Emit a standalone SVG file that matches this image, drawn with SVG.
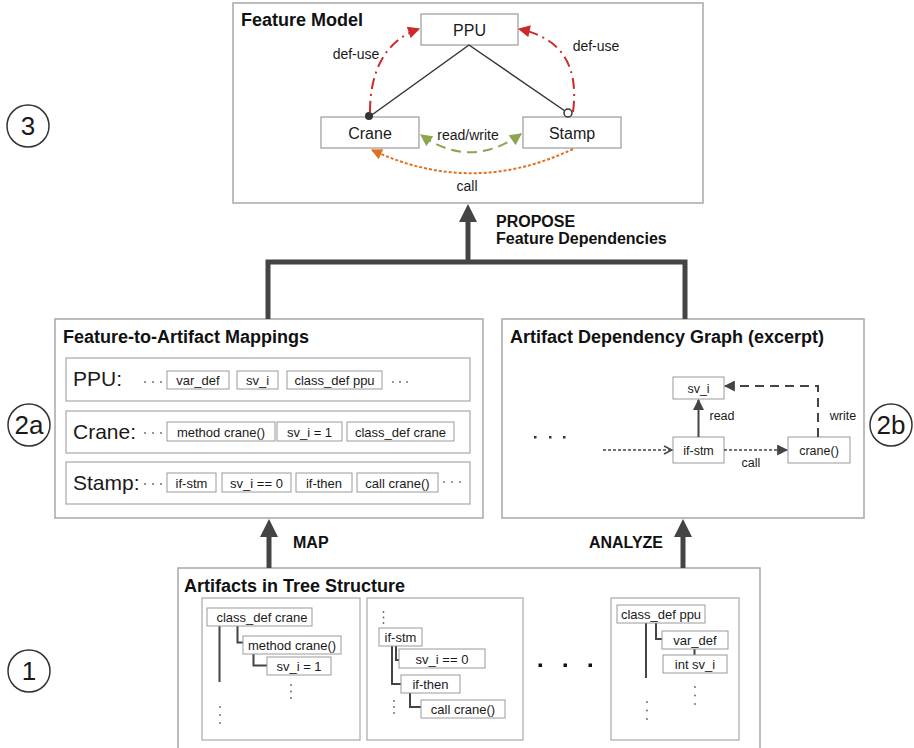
<svg xmlns="http://www.w3.org/2000/svg" width="914" height="748" viewBox="0 0 914 748">
<style>
text{font-family:"Liberation Sans",Arial,sans-serif;fill:#1a1a1a}
.title{font-size:18px;font-weight:bold;fill:#111}
.lbl{font-size:16px;font-weight:bold;fill:#111}
.frame{fill:#fff;stroke:#a8a8a8;stroke-width:1.5}
.row{fill:#fff;stroke:#a8a8a8;stroke-width:1.2}
.item{fill:#fff;stroke:#9a9a9a;stroke-width:1}
.fm{fill:#fff;stroke:#9a9a9a;stroke-width:1.2}
.t16{font-size:16px;text-anchor:middle}
.t14{font-size:14px;text-anchor:middle}
.t13{font-size:13px;text-anchor:middle}
.t12{font-size:12.5px;text-anchor:middle}
.t20{font-size:21px}
.num{fill:#fff;stroke:#333;stroke-width:1.5}
.numt{font-size:26px;text-anchor:middle}
.tree{fill:none;stroke:#444;stroke-width:2}
.big{fill:none;stroke:#444;stroke-width:5}
.dot{fill:#666}
</style>
<defs>
<marker id="ar-red" viewBox="0 0 10 10" refX="9" refY="5" markerWidth="13" markerHeight="12" markerUnits="userSpaceOnUse" orient="auto"><path d="M0,0L10,5L0,10z" fill="#cc2a2a"/></marker>
<marker id="ar-grn" viewBox="0 0 10 10" refX="9" refY="5" markerWidth="13" markerHeight="12" markerUnits="userSpaceOnUse" orient="auto-start-reverse"><path d="M0,0L10,5L0,10z" fill="#8ba64d"/></marker>
<marker id="ar-org" viewBox="0 0 10 10" refX="9" refY="5" markerWidth="12" markerHeight="11" markerUnits="userSpaceOnUse" orient="auto"><path d="M0,0L10,5L0,10z" fill="#e0701f"/></marker>
<marker id="ar-dk" viewBox="0 0 10 10" refX="9" refY="5" markerWidth="11" markerHeight="11" markerUnits="userSpaceOnUse" orient="auto"><path d="M0,0L10,5L0,10z" fill="#444"/></marker>
<marker id="ar-open" viewBox="0 0 10 10" refX="9" refY="5" markerWidth="10" markerHeight="10" markerUnits="userSpaceOnUse" orient="auto"><path d="M1,1L9,5L1,9" fill="none" stroke="#444" stroke-width="1.5"/></marker>
</defs>

<!-- circled step numbers -->
<g id="step-3"><circle class="num" cx="28" cy="126" r="21"/><text class="numt" x="28" y="135">3</text></g>
<g id="step-2a"><circle class="num" cx="29" cy="425" r="21"/><text class="numt" x="29" y="434">2a</text></g>
<g id="step-2b"><circle class="num" cx="891" cy="425" r="21"/><text class="numt" x="891" y="434">2b</text></g>
<g id="step-1"><circle class="num" cx="29" cy="671" r="21"/><text class="numt" x="29" y="680">1</text></g>

<!-- Feature Model -->
<g id="feature-model">
<rect class="frame" x="233" y="3" width="470" height="200"/>
<text class="title" x="241" y="26">Feature Model</text>
</g>
<g id="fm-ppu"><rect class="fm" x="421" y="14" width="97" height="31"/><text class="t16" x="469.5" y="35.5">PPU</text></g>
<g id="fm-crane"><rect class="fm" x="321" y="117" width="98" height="31"/><text class="t16" x="370" y="138.5">Crane</text></g>
<g id="fm-stamp"><rect class="fm" x="523" y="117" width="98" height="31"/><text class="t16" x="572" y="138.5">Stamp</text></g>

<g id="fm-connectors">
<line x1="469" y1="45" x2="369" y2="117" stroke="#333" stroke-width="1.5"/>
<line x1="469" y1="45" x2="565" y2="111" stroke="#333" stroke-width="1.5"/>
<circle cx="369" cy="116" r="4" fill="#333"/>
<circle cx="568" cy="113" r="4" fill="#fff" stroke="#333" stroke-width="1.5"/>
<path d="M370,112 C370,70 386,40 419,29" fill="none" stroke="#cc2a2a" stroke-width="2" stroke-dasharray="11 5 2 5" marker-end="url(#ar-red)"/>
<path d="M573,112 C579,66 562,38 519,29" fill="none" stroke="#cc2a2a" stroke-width="2" stroke-dasharray="11 5 2 5" marker-end="url(#ar-red)"/>
<path d="M521,134 Q470,170 421,135" fill="none" stroke="#8ba64d" stroke-width="2" stroke-dasharray="10 6" marker-start="url(#ar-grn)" marker-end="url(#ar-grn)"/>
<path d="M573,149 Q472,197 372,150" fill="none" stroke="#e0701f" stroke-width="2" stroke-dasharray="3 2" marker-end="url(#ar-org)"/>
<text class="t14" x="356" y="59">def-use</text>
<text class="t14" x="596" y="51">def-use</text>
<text class="t14" x="468" y="140">read/write</text>
<text class="t14" x="467" y="191">call</text>
</g>

<!-- Feature-to-Artifact Mappings -->
<g id="mappings">
<rect class="frame" x="55" y="319" width="428" height="199"/>
<text class="title" x="63" y="343">Feature-to-Artifact Mappings</text>
</g>
<g id="map-ppu">
<rect class="row" x="66" y="358" width="404" height="43"/>
<text class="t20" x="73" y="386">PPU:</text>
<circle class="dot" cx="145" cy="382" r="0.9"/><circle class="dot" cx="153" cy="382" r="0.9"/><circle class="dot" cx="161" cy="382" r="0.9"/>
<rect class="item" x="167" y="371" width="62" height="18"/><text class="t13" x="198" y="385">var_def</text>
<rect class="item" x="237" y="371" width="41" height="18"/><text class="t13" x="257.5" y="385">sv_i</text>
<rect class="item" x="287" y="371" width="95" height="18"/><text class="t13" x="334.5" y="385">class_def ppu</text>
<circle class="dot" cx="393" cy="382" r="0.9"/><circle class="dot" cx="400" cy="382" r="0.9"/><circle class="dot" cx="407" cy="382" r="0.9"/>
</g>
<g id="map-crane">
<rect class="row" x="66" y="411" width="404" height="42"/>
<text class="t20" x="73" y="439">Crane:</text>
<circle class="dot" cx="145" cy="433" r="0.9"/><circle class="dot" cx="153" cy="433" r="0.9"/><circle class="dot" cx="161" cy="433" r="0.9"/>
<rect class="item" x="167" y="422" width="108" height="19"/><text class="t13" x="221" y="436.5">method crane()</text>
<rect class="item" x="277" y="422" width="65" height="19"/><text class="t13" x="309.5" y="436.5">sv_i = 1</text>
<rect class="item" x="347" y="422" width="107" height="19"/><text class="t13" x="400.5" y="436.5">class_def crane</text>
</g>
<g id="map-stamp">
<rect class="row" x="66" y="462" width="404" height="42"/>
<text class="t20" x="73" y="490">Stamp:</text>
<circle class="dot" cx="145" cy="484" r="0.9"/><circle class="dot" cx="153" cy="484" r="0.9"/><circle class="dot" cx="161" cy="484" r="0.9"/>
<rect class="item" x="167" y="473" width="49" height="19"/><text class="t13" x="191.5" y="487.5">if-stm</text>
<rect class="item" x="222" y="473" width="69" height="19"/><text class="t13" x="256.5" y="487.5">sv_i == 0</text>
<rect class="item" x="296" y="473" width="56" height="19"/><text class="t13" x="324" y="487.5">if-then</text>
<rect class="item" x="357" y="473" width="81" height="19"/><text class="t13" x="397.5" y="487.5">call crane()</text>
<circle class="dot" cx="444" cy="482" r="0.9"/><circle class="dot" cx="452" cy="482" r="0.9"/><circle class="dot" cx="460" cy="482" r="0.9"/>
</g>

<!-- Artifact Dependency Graph -->
<g id="dep-graph">
<rect class="frame" x="502" y="319" width="362" height="199"/>
<text class="title" x="510" y="343">Artifact Dependency Graph (excerpt)</text>
<rect x="534" y="436" width="2.5" height="2.5" fill="#333"/><rect x="549" y="436" width="2.5" height="2.5" fill="#333"/><rect x="563" y="436" width="2.5" height="2.5" fill="#333"/>
</g>
<g id="dg-svi"><rect class="item" x="673" y="377" width="51" height="22"/><text class="t12" x="698.5" y="392.5">sv_i</text></g>
<g id="dg-ifstm"><rect class="item" x="673" y="437" width="51" height="26"/><text class="t12" x="698.5" y="454.5">if-stm</text></g>
<g id="dg-crane"><rect class="item" x="788" y="437" width="62" height="26"/><text class="t12" x="819" y="454.5">crane()</text></g>
<g id="dg-connectors">
<line x1="698.5" y1="437" x2="698.5" y2="400" stroke="#444" stroke-width="2" marker-end="url(#ar-dk)"/>
<path d="M818,437 V386 H725" fill="none" stroke="#444" stroke-width="2" stroke-dasharray="9 6" marker-end="url(#ar-dk)"/>
<line x1="724" y1="450" x2="787" y2="450" stroke="#444" stroke-width="1.5" stroke-dasharray="3 2" marker-end="url(#ar-dk)"/>
<line x1="603" y1="450" x2="672" y2="450" stroke="#444" stroke-width="1.5" stroke-dasharray="3 2" marker-end="url(#ar-open)"/>
<text class="t12" x="722" y="420">read</text>
<text class="t12" x="843" y="420">write</text>
<text class="t12" x="751" y="467">call</text>
</g>

<!-- Artifacts in Tree Structure -->
<g id="artifacts">
<rect class="frame" x="178" y="568" width="582" height="200"/>
<text class="title" x="184" y="592">Artifacts in Tree Structure</text>
<rect class="row" x="202" y="598" width="158" height="142"/>
<rect class="row" x="367" y="598" width="156" height="142"/>
<rect class="row" x="611" y="598" width="128" height="142"/>
<rect x="538.5" y="663.5" width="3.5" height="3.5" fill="#111"/><rect x="563.5" y="663.5" width="3.5" height="3.5" fill="#111"/><rect x="588.5" y="663.5" width="3.5" height="3.5" fill="#111"/>
</g>
<g id="tree-1">
<path class="tree" d="M219.5,626 V682 M237.5,626 V642.5 H243 M253.5,654 V665.5 H267"/>
<rect class="item" x="207" y="608" width="105" height="18"/><text class="t13" x="262" y="622">class_def crane</text>
<rect class="item" x="243" y="636" width="98" height="18"/><text class="t13" x="292" y="650">method crane()</text>
<rect class="item" x="267" y="657" width="64" height="18"/><text class="t13" x="299" y="671">sv_i = 1</text>
<circle class="dot" cx="291" cy="685" r="0.9"/><circle class="dot" cx="291" cy="691.5" r="0.9"/><circle class="dot" cx="291" cy="698" r="0.9"/>
<circle class="dot" cx="220" cy="707" r="0.9"/><circle class="dot" cx="220" cy="715" r="0.9"/><circle class="dot" cx="220" cy="723" r="0.9"/>
</g>
<g id="tree-2">
<circle class="dot" cx="383.5" cy="612" r="0.9"/><circle class="dot" cx="383.5" cy="617.5" r="0.9"/><circle class="dot" cx="383.5" cy="623" r="0.9"/>
<path class="tree" d="M392,646 V684 H401 M396,646 V660 H399 M410,693 V707 H421"/>
<rect class="item" x="379" y="628" width="43" height="18"/><text class="t13" x="400.5" y="642">if-stm</text>
<rect class="item" x="399" y="649" width="86" height="19"/><text class="t13" x="442" y="663.5">sv_i == 0</text>
<rect class="item" x="401" y="675" width="59" height="18"/><text class="t13" x="430.5" y="689">if-then</text>
<rect class="item" x="421" y="700" width="84" height="18"/><text class="t13" x="463" y="714">call crane()</text>
<circle class="dot" cx="394" cy="701" r="0.9"/><circle class="dot" cx="394" cy="707" r="0.9"/><circle class="dot" cx="394" cy="713" r="0.9"/>
</g>
<g id="tree-3">
<path class="tree" d="M646,623 V678 M656,623 V639 H662 M694.5,649 V655"/>
<rect class="item" x="617" y="605" width="88" height="18"/><text class="t13" x="661" y="619">class_def ppu</text>
<rect class="item" x="662" y="631" width="66" height="18"/><text class="t13" x="695" y="645">var_def</text>
<rect class="item" x="663" y="655" width="64" height="18"/><text class="t13" x="695" y="669">int sv_i</text>
<circle class="dot" cx="695" cy="687" r="0.9"/><circle class="dot" cx="695" cy="695.5" r="0.9"/><circle class="dot" cx="695" cy="704" r="0.9"/>
<circle class="dot" cx="647" cy="702" r="0.9"/><circle class="dot" cx="647" cy="710.5" r="0.9"/><circle class="dot" cx="647" cy="719" r="0.9"/>
</g>

<!-- Process arrows -->
<g id="process-arrows">
<path class="big" d="M268,319 V262 H685 V319" stroke-width="6"/>
<line class="big" x1="468" y1="262" x2="468" y2="220"/>
<polygon points="468,204 459,222 477,222" fill="#444"/>
<line class="big" x1="269" y1="568" x2="269" y2="535"/>
<polygon points="269,519 260,537 278,537" fill="#444"/>
<line class="big" x1="683" y1="568" x2="683" y2="535"/>
<polygon points="683,519 674,537 692,537" fill="#444"/>
<text class="lbl" x="496" y="227">PROPOSE</text>
<text class="lbl" x="496" y="244">Feature Dependencies</text>
<text class="lbl" x="293" y="548">MAP</text>
<text class="lbl" x="663" y="548" text-anchor="end">ANALYZE</text>
</g>
</svg>
